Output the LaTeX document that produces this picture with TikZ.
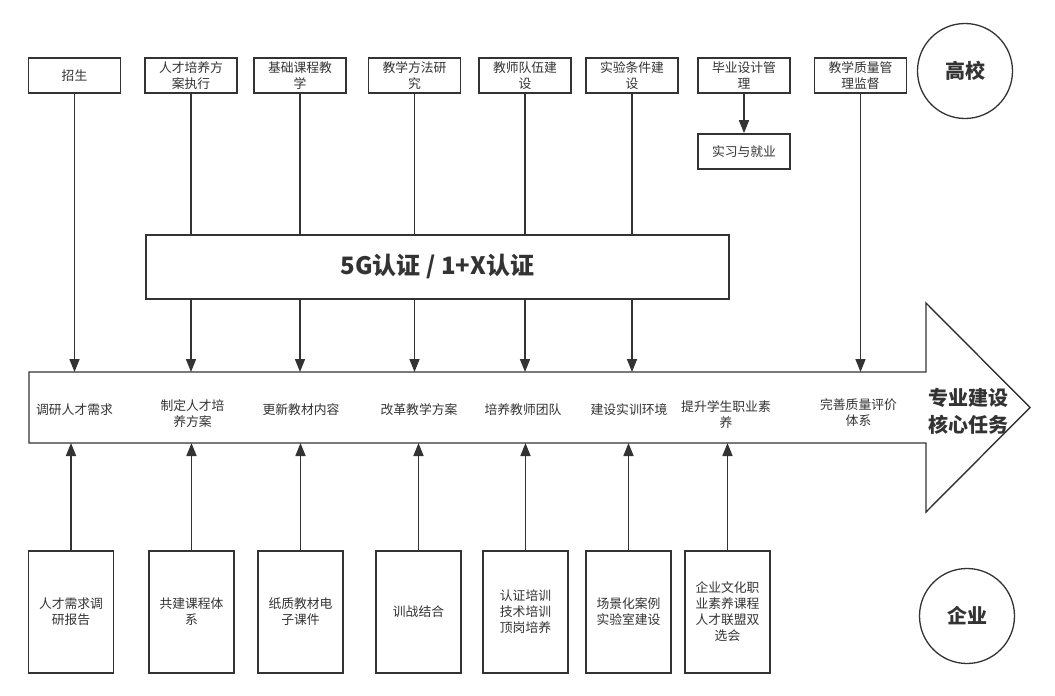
\documentclass[tikz,border=0pt]{standalone}
\usepackage{fontspec}
\setmainfont{Noto Sans CJK SC}
\usepackage{tikz}
\usetikzlibrary{arrows.meta}
\definecolor{ink}{HTML}{333333}

\tikzset{
  every node/.style={text=ink, inner sep=0pt, align=center, font=\fontsize{12.8}{16}\selectfont},
  topbox/.style={draw=ink, fill=white, line width=1.7pt, minimum width=92pt, minimum height=35pt},
  lowbox/.style={draw=ink, fill=white, line width=1.7pt, minimum width=85pt, minimum height=122pt},
  ring/.style={draw=ink, circle, line width=1.3pt, minimum size=95pt, font=\fontsize{20}{24}\selectfont\bfseries},
  link/.style={draw=ink, line width=1.6pt, -{Triangle[width=10pt,length=13pt]}}
}

\begin{document}
\begin{tikzpicture}[x=1pt,y=-1pt]
\useasboundingbox (0,0) rectangle (1055,696);

% upper row
\node[topbox] (t1) at (74.5,75.5) {招生};
\node[topbox] (t2) at (191,75.5) {人才培养方\\案执行};
\node[topbox] (t3) at (300,75.5) {基础课程教\\学};
\node[topbox] (t4) at (414.5,75.5) {教学方法研\\究};
\node[topbox] (t5) at (525,75.5) {教师队伍建\\设};
\node[topbox] (t6) at (632,75.5) {实验条件建\\设};
\node[topbox] (t7) at (744,75.5) {毕业设计管\\理};
\node[topbox] (t8) at (860.5,75.5) {教学质量管\\理监督};
\node[topbox] (job) at (744,151.5) {实习与就业};
\node[ring] (school) at (965,71) {高校};

% the big arrow
\draw[ink, line width=1.4pt, fill=white] (29,372) -- (926,372) -- (926,303) -- (1030,407.5)
  -- (926,512) -- (926,443) -- (29,443) -- cycle;
\coordinate (bodytop) at (0,372);
\coordinate (bodybot) at (0,443);

\node (l1) at (74.5,410) {调研人才需求};
\node (l2) at (192.5,414) {制定人才培\\养方案};
\node (l3) at (301,410) {更新教材内容};
\node (l4) at (419,410) {改革教学方案};
\node (l5) at (523,410) {培养教师团队};
\node (l6) at (629,410) {建设实训环境};
\node (l7) at (726,415) {提升学生职业素\\养};
\node (l8) at (858.5,413) {完善质量评价\\体系};
\node[font=\fontsize{20}{27}\selectfont\bfseries] (core) at (968,411.5) {专业建设\\核心任务};

% lower row
\node[lowbox] (b1) at (71,612) {人才需求调\\研报告};
\node[lowbox] (b2) at (191.5,612) {共建课程体\\系};
\node[lowbox] (b3) at (300.5,612) {纸质教材电\\子课件};
\node[lowbox] (b4) at (418.5,612) {训战结合};
\node[lowbox] (b5) at (525.5,612) {认证培训\\技术培训\\顶岗培养};
\node[lowbox] (b6) at (628.5,612) {场景化案例\\实验室建设};
\node[lowbox] (b7) at (727.5,612) {企业文化职\\业素养课程\\人才联盟双\\选会};
\node[ring] (firm) at (967,616) {企业};

% connectors
\foreach \t in {t1,t2,t3,t4,t5,t6,t8}
  \draw[link] (\t) -- (\t |- bodytop);
\draw[link] (t7) -- (job);
\foreach \b in {b1,b2,b3,b4,b5,b6,b7}
  \draw[link] (\b) -- (\b |- bodybot);

% certificate band on top of the lines
\node[draw=ink, fill=white, line width=1.7pt, minimum width=583pt, minimum height=64pt,
  font=\fontsize{24}{28}\selectfont\bfseries] (cert) at (437.5,267) {5G认证 / 1+X认证};
\end{tikzpicture}
\end{document}
